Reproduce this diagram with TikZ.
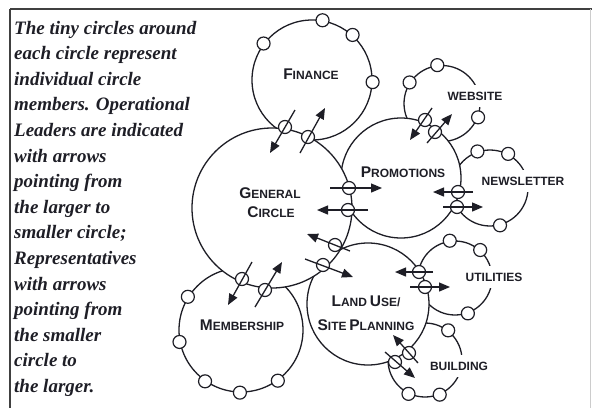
\documentclass[tikz,border=0pt]{standalone}
\usepackage{fontspec}
\setmainfont{Liberation Serif}
\newfontfamily\labfont{Liberation Sans}
\usetikzlibrary{arrows.meta}
\definecolor{ink}{HTML}{1E1E26}
\newcommand\scp[2]{{\fontsize{15.5}{16}\selectfont #1}{\fontsize{12}{13}\selectfont #2}}
\begin{document}
\begin{tikzpicture}[x=1pt,y=-1pt,line join=round,
  ring/.style={circle,draw=ink,line width=1.3pt,fill=white,inner sep=0pt},
  member/.style={circle,draw=ink,line width=1.2pt,fill=white,minimum size=13pt,inner sep=0pt},
  arr/.style={draw=ink,line width=1.3pt,-{Triangle[length=11pt,width=9pt]}},
  lab/.style={font=\labfont\bfseries,text=ink,inner sep=1pt},
  cutlab/.style={font=\labfont\bfseries\fontsize{12}{13}\selectfont,text=ink,fill=white,inner xsep=2pt,inner ysep=7pt,text height=8.6pt,text depth=0pt},
  captxt/.style={font=\bfseries\itshape\fontsize{19}{25.6}\selectfont,text=ink,anchor=base west,inner sep=0pt}]
\useasboundingbox (0,0) rectangle (592,408);
% frame
\draw[line width=2pt,draw=black!75] (10,9) -- (592,9);
\draw[line width=1.5pt,draw=black!75] (10,9) -- (10,408);
\draw[line width=0.8pt,draw=black!20] (590.5,9) -- (590.5,408);
% circles (order gives overlap)
\node[ring,minimum size=120pt] (fin) at (312,80) {};
\node[ring,minimum size=76pt] (web) at (442,103.5) {};
\node[ring,minimum size=76pt] (news) at (490,188) {};
\node[ring,minimum size=74pt] (util) at (455,278) {};
\node[ring,minimum size=74pt] (bld) at (425,360) {};
\node[ring,minimum size=124pt] (mem) at (241,330) {};
\node[ring,minimum size=120pt] (prom) at (401,178) {};
\node[ring,minimum size=122pt] (land) at (368,304) {};
\node[ring,minimum size=160pt] (gen) at (272,208) {};
% members
\foreach \c/\a [count=\i] in {fin/143,fin/80,fin/48.5,fin/-2,
  web/147,web/97.6,web/-21,
  news/109,news/62.7,news/-75,
  util/98,util/48.5,util/-70.5,
  bld/52,bld/-116,bld/-67,
  mem/148,mem/191,mem/235,mem/269,mem/306}
  \node[member] (m\i) at (\c.\a) {};
% links
\foreach \n/\l/\t/\h in {
  fg1/{285,127}/{295,110}/{270,153},
  fg2/{308,137}/{300,153}/{325,108},
  gp1/{349,188}/{330,188}/{382,188},
  gp2/{348,210}/{368,210}/{317,210},
  gl1/{335,245}/{350,251}/{307,234},
  gl2/{323,265}/{305,259}/{353,277},
  gm1/{242,279}/{252,262}/{228,305},
  gm2/{265,290}/{255,307}/{282,262},
  pw1/{425,120}/{432,108}/{410,140},
  pw2/{435,132}/{427,143}/{452,114},
  pn1/{458,192}/{473,192}/{433,192},
  pn2/{457,207}/{443,207}/{483,207},
  lu1/{419,272}/{433,272}/{395,272},
  lu2/{425,287}/{410,287}/{450,287},
  lb1/{409,353}/{418,363}/{393,335},
  lb2/{395,362}/{385,352}/{415,378}}
{
  \node[member] (\n) at (\l) {};
  \coordinate (\n t) at (\t);
  \coordinate (\n h) at (\h);
}
\foreach \n in {fg1,fg2,gp1,gp2,gl1,gl2,gm1,gm2,pw1,pw2,pn1,pn2,lu1,lu2,lb1,lb2}
  \draw[arr] (\n t) -- (\n h);
% labels
\node[lab] (tfin) at (311,74) {\scp{F}{INANCE}};
\node[lab] (tgen1) at (270,193) {\scp{G}{ENERAL}};
\node[lab] (tgen2) at (271,212) {\scp{C}{IRCLE}};
\node[lab] (tprom) at (403,172) {\scp{P}{ROMOTIONS}};
\node[lab] (tland1) at (366,301) {\scp{L}{AND} \scp{U}{SE/}};
\node[lab] (tland2) at (366,325) {\scp{S}{ITE} \scp{P}{LANNING}};
\node[lab] (tmem) at (242,325) {\scp{M}{EMBERSHIP}};
\node[cutlab] (tweb) at (475,96) {WEBSITE};
\node[cutlab] (tnews) at (523,181) {NEWSLETTER};
\node[cutlab] (tutil) at (494,277) {UTILITIES};
\node[cutlab] (tbld) at (459,366) {BUILDING};
% caption
\foreach \txt [count=\i from 0] in {The tiny circles around,each circle represent,individual circle,members. Operational,Leaders are indicated,with arrows,pointing from,the larger to,smaller circle;,Representatives,with arrows,pointing from,the smaller,circle to,the larger.}
  \node[captxt] (c\i) at (14,34+25.6*\i) {\txt};
\end{tikzpicture}
\end{document}
